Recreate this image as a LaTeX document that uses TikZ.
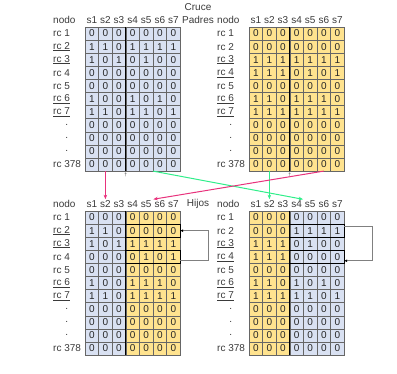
\documentclass[tikz,border=0pt]{standalone}
\usepackage{fontspec}
\setmainfont{Liberation Sans}
\usetikzlibrary{positioning, arrows.meta, calc}
\usepackage{xcolor}
\definecolor{azulcelda}{HTML}{D9E1F2}
\definecolor{orocelda}{HTML}{FFE38F}
\definecolor{rosa}{HTML}{E8327C}
\definecolor{verde}{HTML}{30EE8A}
\definecolor{gristexto}{HTML}{3A3A3A}
\tikzset{
  celda/.style={draw=black!60, line width=0.5pt, minimum width=13.6pt, minimum height=13.1pt,
    inner sep=0pt, outer sep=0pt, text=black!85},
  cabecera/.style={text=gristexto, inner sep=1pt},
  etiqueta/.style={text=gristexto, anchor=west, inner sep=0pt},
  corte/.style={line width=1.1pt, black},
  cruce/.style={line width=1pt, -{Stealth[length=4.5pt, width=3.5pt]}},
  enlace/.style={draw=black!50, line width=0.8pt, -{Latex[length=3pt, width=3pt, color=black]}},
}
\newcommand{\pto}{\makebox[15pt][r]{.}}
% #1 nombre, #2 x izquierda, #3 y arriba, #4 relleno s1-s3, #5 relleno s4-s7, #6 filas
\newcommand{\tabla}[6]{%
  \node[etiqueta] (#1-nodo) at (#2-32, #3-7) {nodo};
  \foreach \col in {1,...,7}
    \node[cabecera] (#1-h\col) at (#2+\col*13.6-6.8, #3-7) {s\col};
  \foreach \lab/\bits [count=\fila] in {#6} {
    \node[etiqueta] (#1-rc\fila) at (#2-32, #3+\fila*13.1-6.55) {\lab};
    \foreach \bit [count=\col] in \bits {
      \ifnum\col<4 \def\relleno{#4}\else\def\relleno{#5}\fi
      \node[celda, fill=\relleno] (#1-\fila-\col) at (#2+\col*13.6-6.8, #3+\fila*13.1-6.55) {\bit};
    }
  }
  \draw[corte] (#1-1-3.north east) -- (#1-11-3.south east);
}

\begin{document}
\begin{tikzpicture}[x=1pt, y=-1pt, font=\fontsize{10}{12}\selectfont]
  \useasboundingbox (0,0) rectangle (397,374);
  \node[cabecera] (titulo) at (198,7) {Cruce};
  \node[cabecera] (padres) at (198,20) {Padres};
  \node[cabecera] (hijos) at (198,204) {Hijos};
  % padres
  \tabla{A}{85}{27}{azulcelda}{azulcelda}{{rc 1}/{0,0,0,0,0,0,0}, {\underline{rc 2}}/{1,1,0,1,1,1,1},
    {\underline{rc 3}}/{1,0,1,0,1,0,0}, {rc 4}/{0,0,0,0,0,0,0}, {rc 5}/{0,0,0,0,0,0,0},
    {\underline{rc 6}}/{1,0,0,1,0,1,0}, {\underline{rc 7}}/{1,1,0,1,1,0,1}, {\pto}/{0,0,0,0,0,0,0},
    {\pto}/{0,0,0,0,0,0,0}, {\pto}/{0,0,0,0,0,0,0}, {rc 378}/{0,0,0,0,0,0,0}}
  \tabla{B}{249}{27}{orocelda}{orocelda}{{rc 1}/{0,0,0,0,0,0,0}, {rc 2}/{0,0,0,0,0,0,0},
    {\underline{rc 3}}/{1,1,1,1,1,1,1}, {\underline{rc 4}}/{1,1,1,0,1,0,1}, {rc 5}/{0,0,0,0,0,0,0},
    {\underline{rc 6}}/{1,1,0,1,1,1,0}, {\underline{rc 7}}/{1,1,1,1,1,1,1}, {\pto}/{0,0,0,0,0,0,0},
    {\pto}/{0,0,0,0,0,0,0}, {\pto}/{0,0,0,0,0,0,0}, {rc 378}/{0,0,0,0,0,0,0}}
  \node[text=gristexto, font=\tiny, inner sep=0pt] (A-marca) at ($(A-11-3.south east)+(0,4)$) {\dag};
  \node[text=gristexto, font=\tiny, inner sep=0pt] (B-marca) at ($(B-11-3.south east)+(0,4)$) {\dag};
  % hijos
  \tabla{C}{85}{211}{azulcelda}{orocelda}{{rc 1}/{0,0,0,0,0,0,0}, {\underline{rc 2}}/{1,1,0,0,0,0,0},
    {\underline{rc 3}}/{1,0,1,1,1,1,1}, {rc 4}/{0,0,0,0,1,0,1}, {rc 5}/{0,0,0,0,0,0,0},
    {\underline{rc 6}}/{1,0,0,1,1,1,0}, {\underline{rc 7}}/{1,1,0,1,1,1,1}, {\pto}/{0,0,0,0,0,0,0},
    {\pto}/{0,0,0,0,0,0,0}, {\pto}/{0,0,0,0,0,0,0}, {rc 378}/{0,0,0,0,0,0,0}}
  \tabla{D}{249}{211}{orocelda}{azulcelda}{{rc 1}/{0,0,0,0,0,0,0}, {rc 2}/{0,0,0,1,1,1,1},
    {\underline{rc 3}}/{1,1,1,0,1,0,0}, {\underline{rc 4}}/{1,1,1,0,0,0,0}, {rc 5}/{0,0,0,0,0,0,0},
    {\underline{rc 6}}/{1,1,0,1,0,1,0}, {\underline{rc 7}}/{1,1,1,1,1,0,1}, {\pto}/{0,0,0,0,0,0,0},
    {\pto}/{0,0,0,0,0,0,0}, {\pto}/{0,0,0,0,0,0,0}, {rc 378}/{0,0,0,0,0,0,0}}
  \draw[corte] (C-2-4.north west) rectangle (C-2-7.south east);
  \draw[corte] (C-4-4.north west) rectangle (C-4-7.south east);
  \draw[corte] (D-2-4.north west) rectangle (D-2-7.south east);
  \draw[corte] (D-4-4.north west) rectangle (D-4-7.south east);
  \draw[enlace] (C-4-7.-30) -- ++(28,0) |- (C-2-7.east);
  \draw[enlace] (D-2-7.30) -- ++(28,0) |- (D-4-7.-30);
  % cruce
  \draw[cruce, rosa] (A-11-2.south) -- (C-h2.north);
  \draw[cruce, verde] (B-11-2.south) -- (D-h2.north);
  \draw[cruce, verde] (A-11-5.south east) -- (D-h4.north east);
  \draw[cruce, rosa] (B-11-6.south) -- (C-h6.north west);
\end{tikzpicture}
\end{document}
